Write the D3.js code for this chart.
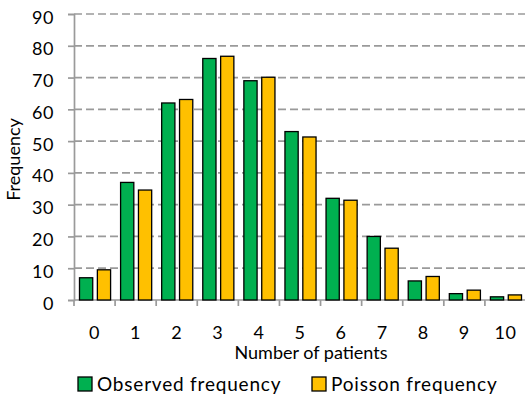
<!DOCTYPE html>
<html>
<head>
<meta charset="utf-8">
<script src="https://cdn.jsdelivr.net/npm/d3@7"></script>
<style>
  html, body { margin: 0; padding: 0; background: #fff; }
  svg { display: block; }
  text { font-family: Lato, "Open Sans", sans-serif; fill: #000; }
</style>
</head>
<body>
<svg id="chart" width="525" height="399"></svg>
<script>
// Number of patients per day: observed counts vs. fitted Poisson counts
const categories = ["0", "1", "2", "3", "4", "5", "6", "7", "8", "9", "10"];
const observed = [7, 37, 62, 76, 69, 53, 32, 20, 6, 2, 1];
const poisson = [9.5, 34.6, 63.1, 76.7, 70.1, 51.3, 31.4, 16.3, 7.4, 3.1, 1.6];
const yTicks = [0, 10, 20, 30, 40, 50, 60, 70, 80, 90];
const seriesNames = ["Observed frequency", "Poisson frequency"];
const seriesColors = ["#00B050", "#FFC000"];

const svg = d3.select("#chart");
const margin = { left: 74, right: -1, top: 14, bottom: 99 };
const W = 525, H = 399;
const plotW = W - margin.left - margin.right;
const plotH = H - margin.top - margin.bottom;

const x = d3.scaleBand().domain(categories).range([margin.left, margin.left + plotW]).paddingInner(0).paddingOuter(0);
const y = d3.scaleLinear().domain([0, 90]).range([margin.top + plotH, margin.top]);
const gridColor = "#9a9a9a";

// horizontal dashed gridlines
svg.append("g").selectAll("line").data(yTicks.filter(d => d > 0)).join("line")
  .attr("x1", margin.left).attr("x2", W)
  .attr("y1", d => y(d)).attr("y2", d => y(d))
  .attr("stroke", gridColor).attr("stroke-width", 1.7)
  .attr("stroke-dasharray", "8,4");

// y axis
const yAxis = svg.append("g").attr("transform", `translate(${margin.left},0)`)
  .call(d3.axisLeft(y).tickValues(yTicks).tickSize(6).tickPadding(14));
yAxis.select(".domain").attr("stroke", gridColor).attr("stroke-width", 1.7);
yAxis.selectAll(".tick line").attr("stroke", gridColor).attr("stroke-width", 1.7);
yAxis.selectAll(".tick text").style("font-size", "18px").style("letter-spacing", "0.6px")
  .attr("fill", "#000").attr("dy", "0.5em");

// x axis with ticks at category boundaries
const xAxisG = svg.append("g").attr("transform", `translate(0,${y(0)})`);
xAxisG.append("line").attr("x1", margin.left).attr("x2", W)
  .attr("stroke", gridColor).attr("stroke-width", 1.7);
const bounds = categories.map(c => x(c)).concat([margin.left + plotW]);
xAxisG.selectAll(".bt").data(bounds).join("line").attr("class", "bt")
  .attr("x1", d => d).attr("x2", d => d).attr("y1", 0).attr("y2", 6)
  .attr("stroke", gridColor).attr("stroke-width", 1.7);
xAxisG.selectAll(".xl").data(categories).join("text").attr("class", "xl")
  .attr("x", d => x(d) + x.bandwidth() / 2).attr("y", 39)
  .attr("text-anchor", "middle").style("font-size", "18px").style("letter-spacing", "0.6px")
  .text(d => d);

// grouped bars
const inner = d3.scaleBand().domain([0, 1]).range([5.5, x.bandwidth() - 4.5]).paddingInner(0.26);
const groups = svg.append("g").selectAll("g").data(categories).join("g")
  .attr("transform", d => `translate(${x(d)},0)`);
[observed, poisson].forEach((vals, si) => {
  groups.append("rect")
    .attr("x", inner(si))
    .attr("width", inner.bandwidth())
    .attr("y", (d, i) => y(vals[i]))
    .attr("height", (d, i) => y(0) - y(vals[i]))
    .attr("fill", seriesColors[si])
    .attr("stroke", "#000").attr("stroke-width", 1.3);
});

// axis titles
svg.append("text").attr("x", 311).attr("y", 359)
  .attr("text-anchor", "middle").style("font-size", "18px").text("Number of patients");
svg.append("text").attr("transform", "translate(19.5,159.5) rotate(-90)")
  .attr("text-anchor", "middle").style("font-size", "18px").text("Frequency");

// legend
const legendX = [78, 312];
const legend = svg.append("g").selectAll("g").data(seriesNames).join("g")
  .attr("transform", (d, i) => `translate(${legendX[i]},377)`);
legend.append("rect").attr("width", 14).attr("height", 14)
  .attr("fill", (d, i) => seriesColors[i]).attr("stroke", "#000").attr("stroke-width", 1.3);
legend.append("text").attr("x", 19).attr("y", 14)
  .style("font-size", "19px").style("letter-spacing", "0.8px").text(d => d);
</script>
</body>
</html>
